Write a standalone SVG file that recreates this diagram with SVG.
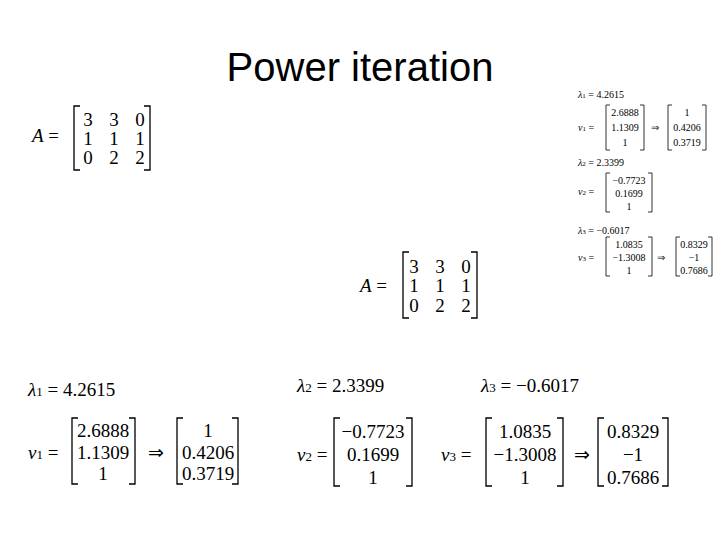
<svg xmlns="http://www.w3.org/2000/svg" width="720" height="540" viewBox="0 0 720 540">
<style>
.t{font-family:"Liberation Sans",sans-serif;font-size:40px;fill:#000}
.m{font-family:"Liberation Serif",serif;font-size:19px;fill:#000}
.s{font-family:"Liberation Serif",serif;font-size:10px;fill:#000}
.c{text-anchor:middle}
.b{fill:none;stroke:#000;stroke-width:1.3}
.bs{fill:none;stroke:#000;stroke-width:0.8}
</style>
<rect width="720" height="540" fill="#fff"/>
<text class="t c" x="360" y="81">Power iteration</text>
<g id="A1">
<text class="m" x="32" y="142"><tspan font-style="italic">A</tspan> =</text>
<path class="b" d="M80 106H74V170H80M144 106H150V170H144"/>
<g class="m c"><text x="88" y="126">3</text><text x="114" y="126">3</text><text x="140" y="126">0</text>
<text x="88" y="145">1</text><text x="114" y="145">1</text><text x="140" y="145">1</text>
<text x="88" y="164">0</text><text x="114" y="164">2</text><text x="140" y="164">2</text></g>
</g>
<g id="A2">
<text class="m" x="360" y="292"><tspan font-style="italic">A</tspan> =</text>
<path class="b" d="M409 252H403V318H409M471 252H477V318H471"/>
<g class="m c"><text x="414" y="273">3</text><text x="440" y="273">3</text><text x="466" y="273">0</text>
<text x="414" y="292">1</text><text x="440" y="292">1</text><text x="466" y="292">1</text>
<text x="414" y="312">0</text><text x="440" y="312">2</text><text x="466" y="312">2</text></g>
</g>
<g id="small">
<text class="s" x="578" y="98"><tspan font-style="italic">λ</tspan><tspan font-size="7">1</tspan> = 4.2615</text>
<text class="s" x="578" y="131"><tspan font-style="italic">v</tspan><tspan font-size="7">1</tspan> =</text>
<path class="bs" d="M610 105H606V150H610M640 105H644V150H640"/>
<g class="s c"><text x="625" y="116">2.6888</text><text x="625" y="131">1.1309</text><text x="625" y="146">1</text></g>
<text class="s" x="651" y="131">⇒</text>
<path class="bs" d="M672 105H668V150H672M702 105H706V150H702"/>
<g class="s c"><text x="687" y="116">1</text><text x="687" y="131">0.4206</text><text x="687" y="146">0.3719</text></g>
<text class="s" x="578" y="166"><tspan font-style="italic">λ</tspan><tspan font-size="7">2</tspan> = 2.3399</text>
<text class="s" x="578" y="195"><tspan font-style="italic">v</tspan><tspan font-size="7">2</tspan> =</text>
<path class="bs" d="M610 173H606V212H610M648 173H652V212H648"/>
<g class="s c"><text x="629" y="184">−0.7723</text><text x="629" y="197">0.1699</text><text x="629" y="210">1</text></g>
<text class="s" x="578" y="234"><tspan font-style="italic">λ</tspan><tspan font-size="7">3</tspan> = −0.6017</text>
<text class="s" x="578" y="261"><tspan font-style="italic">v</tspan><tspan font-size="7">3</tspan> =</text>
<path class="bs" d="M610 237H606V276H610M648 237H652V276H648"/>
<g class="s c"><text x="629" y="248">1.0835</text><text x="629" y="261">−1.3008</text><text x="629" y="274">1</text></g>
<text class="s" x="657" y="261">⇒</text>
<path class="bs" d="M680 237H676V276H680M708 237H712V276H708"/>
<g class="s c"><text x="694" y="248">0.8329</text><text x="694" y="261">−1</text><text x="694" y="274">0.7686</text></g>
</g>
<g id="v1">
<text class="m" x="28" y="396"><tspan font-style="italic">λ</tspan><tspan font-size="13">1</tspan> = 4.2615</text>
<text class="m" x="28" y="459"><tspan font-style="italic">v</tspan><tspan font-size="13">1</tspan> =</text>
<path class="b" d="M78 418H72V484H78M129 418H135V484H129"/>
<g class="m c"><text x="103" y="437">2.6888</text><text x="103" y="459">1.1309</text><text x="103" y="480">1</text></g>
<text class="m" x="148" y="459">⇒</text>
<path class="b" d="M183 418H177V484H183M232 418H238V484H232"/>
<g class="m c"><text x="208" y="437">1</text><text x="208" y="459">0.4206</text><text x="208" y="480">0.3719</text></g>
</g>
<g id="v2">
<text class="m" x="297" y="392"><tspan font-style="italic">λ</tspan><tspan font-size="13">2</tspan> = 2.3399</text>
<text class="m" x="297" y="461"><tspan font-style="italic">v</tspan><tspan font-size="13">2</tspan> =</text>
<path class="b" d="M340 418H334V486H340M406 418H412V486H406"/>
<g class="m c"><text x="373" y="438">−0.7723</text><text x="373" y="461">0.1699</text><text x="373" y="484">1</text></g>
</g>
<g id="v3">
<text class="m" x="481" y="392"><tspan font-style="italic">λ</tspan><tspan font-size="13">3</tspan> = −0.6017</text>
<text class="m" x="441" y="461"><tspan font-style="italic">v</tspan><tspan font-size="13">3</tspan> =</text>
<path class="b" d="M492 418H486V486H492M557 418H563V486H557"/>
<g class="m c"><text x="525" y="438">1.0835</text><text x="525" y="461">−1.3008</text><text x="525" y="484">1</text></g>
<text class="m" x="574" y="461">⇒</text>
<path class="b" d="M604 418H598V486H604M662 418H668V486H662"/>
<g class="m c"><text x="633" y="438">0.8329</text><text x="633" y="461">−1</text><text x="633" y="484">0.7686</text></g>
</g>
</svg>
